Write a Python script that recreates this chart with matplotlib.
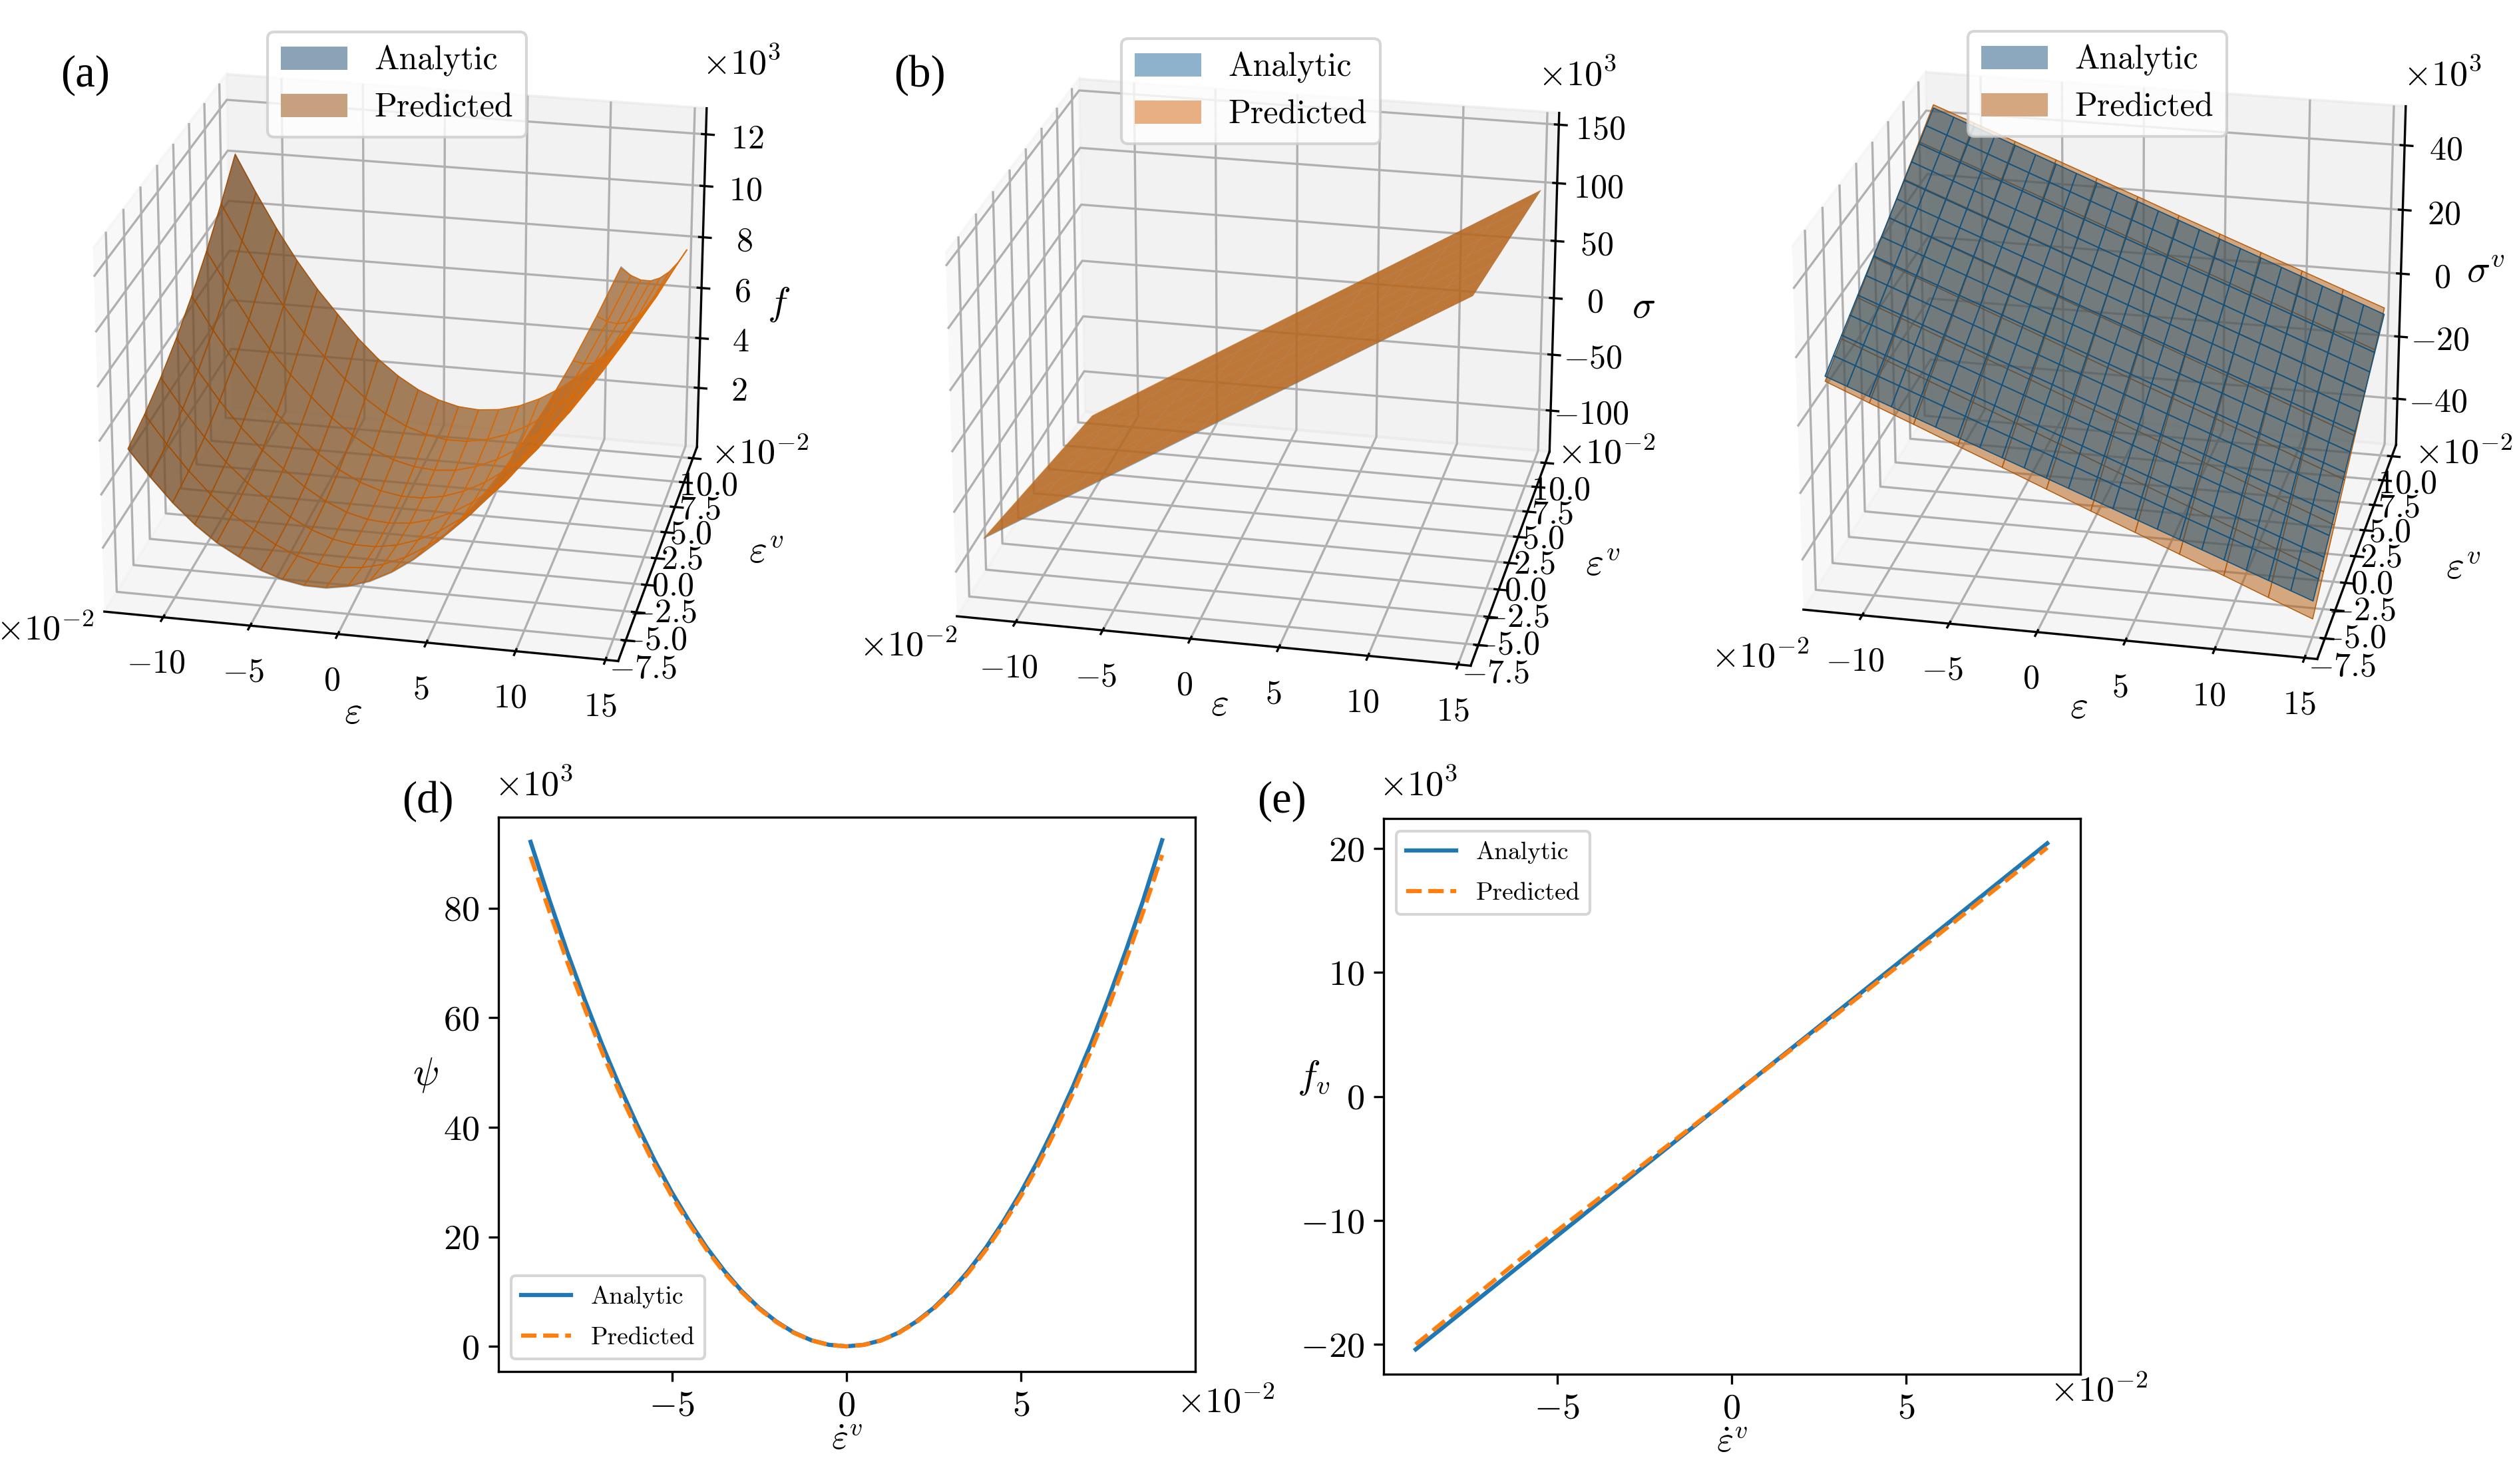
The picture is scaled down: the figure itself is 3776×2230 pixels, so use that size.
import numpy as np
import matplotlib
matplotlib.use("Agg")
import matplotlib.pyplot as plt
from matplotlib.patches import Patch

plt.rcParams['font.family'] = ['cmr10', 'DejaVu Sans']
plt.rcParams['mathtext.fontset'] = 'cm'
plt.rcParams['axes.unicode_minus'] = False
plt.rcParams['axes.formatter.use_mathtext'] = True

W, H = 3776, 2230
DPI = 300

EPS_FINE = [-12.5, -11.25, -10, -8.75, -7.5, -6.25, -5, -3.75, -2.5, -1.25, 0, 1.25, 2.5, 3.75, 5, 6.25, 7.5, 8.75, 10, 11.25, 12.5, 13.75, 15]
EPS = [-12.5, -10, -7.5, -5, -2.5, 0, 2.5, 5, 7.5, 10, 12.5, 15]
EPSV = [-7.5, -5, -2.5, 0, 2.5, 5, 7.5, 10]
EPSV_FINE = [-7.5, -6.25, -5, -3.75, -2.5, -1.25, 0, 1.25, 2.5, 3.75, 5, 6.25, 7.5, 8.75, 10]

F_ANALYTIC = [
    [5.04, 4.06, 3.17, 2.42, 1.81, 1.35, 0.92, 0.64, 0.49, 0.48, 0.62, 0.89, 1.31, 1.87, 2.57, 3.41, 4.39, 5.51, 6.77, 8.17, 9.71, 11.40, 13.22],
    [5.38, 4.33, 3.38, 2.56, 1.88, 1.35, 0.85, 0.50, 0.28, 0.21, 0.28, 0.48, 0.83, 1.32, 1.95, 2.72, 3.63, 4.68, 5.88, 7.21, 8.68, 10.30, 12.05],
    [5.86, 4.74, 3.72, 2.83, 2.09, 1.49, 0.92, 0.50, 0.21, 0.07, 0.07, 0.21, 0.49, 0.91, 1.47, 2.17, 3.01, 3.99, 5.12, 6.38, 7.79, 9.34, 11.02],
    [6.48, 5.29, 4.20, 3.24, 2.43, 1.76, 1.13, 0.64, 0.28, 0.07, 0.00, 0.07, 0.28, 0.64, 1.13, 1.76, 2.53, 3.44, 4.50, 5.69, 7.03, 8.51, 10.13],
    [7.24, 5.98, 4.82, 3.79, 2.91, 2.17, 1.47, 0.91, 0.49, 0.21, 0.07, 0.07, 0.21, 0.50, 0.92, 1.49, 2.19, 3.03, 4.02, 5.14, 6.41, 7.82, 9.37],
    [8.13, 6.81, 5.58, 4.48, 3.53, 2.72, 1.95, 1.32, 0.83, 0.48, 0.28, 0.21, 0.28, 0.50, 0.85, 1.35, 1.98, 2.76, 3.68, 4.73, 5.93, 7.27, 8.75],
    [9.16, 7.77, 6.47, 5.31, 4.29, 3.41, 2.57, 1.87, 1.31, 0.89, 0.62, 0.48, 0.49, 0.64, 0.92, 1.35, 1.91, 2.62, 3.47, 4.46, 5.59, 6.86, 8.27],
    [10.33, 8.87, 7.50, 6.27, 5.18, 4.24, 3.33, 2.56, 1.93, 1.44, 1.10, 0.89, 0.83, 0.91, 1.13, 1.49, 1.98, 2.62, 3.40, 4.32, 5.38, 6.59, 7.93],
]
F_PREDICTED = [
    [5.09, 4.11, 3.22, 2.47, 1.86, 1.40, 0.97, 0.69, 0.54, 0.53, 0.67, 0.94, 1.36, 1.92, 2.62, 3.46, 4.44, 5.55, 6.80, 8.19, 9.72, 11.38, 13.15],
    [5.43, 4.38, 3.43, 2.61, 1.93, 1.40, 0.90, 0.55, 0.33, 0.26, 0.33, 0.53, 0.88, 1.37, 2.00, 2.77, 3.68, 4.72, 5.92, 7.23, 8.70, 10.30, 12.02],
    [5.90, 4.78, 3.76, 2.87, 2.13, 1.53, 0.96, 0.54, 0.25, 0.11, 0.11, 0.25, 0.53, 0.95, 1.51, 2.21, 3.05, 4.02, 5.15, 6.40, 7.81, 9.34, 11.00],
    [6.50, 5.31, 4.22, 3.26, 2.45, 1.78, 1.15, 0.66, 0.30, 0.09, 0.03, 0.09, 0.31, 0.66, 1.16, 1.78, 2.55, 3.46, 4.52, 5.70, 7.04, 8.50, 10.10],
    [7.24, 5.98, 4.83, 3.80, 2.92, 2.18, 1.48, 0.92, 0.50, 0.23, 0.09, 0.09, 0.23, 0.52, 0.94, 1.51, 2.20, 3.04, 4.03, 5.14, 6.41, 7.81, 9.35],
    [8.12, 6.80, 5.57, 4.48, 3.53, 2.72, 1.96, 1.33, 0.84, 0.49, 0.29, 0.22, 0.29, 0.51, 0.86, 1.36, 1.99, 2.76, 3.68, 4.72, 5.92, 7.25, 8.72],
    [9.13, 7.75, 6.45, 5.30, 4.28, 3.40, 2.57, 1.87, 1.31, 0.89, 0.62, 0.48, 0.49, 0.64, 0.92, 1.35, 1.91, 2.61, 3.46, 4.44, 5.57, 6.83, 8.23],
    [10.27, 8.82, 7.46, 6.24, 5.16, 4.22, 3.32, 2.55, 1.92, 1.43, 1.09, 0.88, 0.82, 0.90, 1.12, 1.48, 1.97, 2.61, 3.38, 4.30, 5.35, 6.55, 7.88],
]
S_ANALYTIC = [
    [-87.1, -66.0, -44.9, -23.8, -2.7, 18.5, 39.6, 60.7, 81.8, 102.9, 124.0, 145.1],
    [-93.2, -72.1, -51.0, -29.9, -8.8, 12.3, 33.4, 54.5, 75.6, 96.7, 117.8, 138.9],
    [-99.4, -78.3, -57.2, -36.1, -15.0, 6.2, 27.3, 48.4, 69.5, 90.6, 111.7, 132.8],
    [-105.5, -84.4, -63.3, -42.2, -21.1, 0.0, 21.1, 42.2, 63.3, 84.4, 105.5, 126.6],
    [-111.7, -90.6, -69.5, -48.4, -27.3, -6.2, 15.0, 36.1, 57.2, 78.3, 99.4, 120.5],
    [-117.8, -96.7, -75.6, -54.5, -33.4, -12.3, 8.8, 29.9, 51.0, 72.1, 93.2, 114.3],
    [-124.0, -102.9, -81.8, -60.7, -39.6, -18.5, 2.7, 23.8, 44.9, 66.0, 87.1, 108.2],
    [-130.1, -109.0, -87.9, -66.8, -45.7, -24.6, -3.5, 17.6, 38.7, 59.8, 80.9, 102.0],
]
S_PREDICTED = [
    [-86.6, -65.4, -44.3, -23.1, -2.0, 19.1, 40.2, 61.2, 82.2, 103.2, 124.1, 145.0],
    [-92.6, -71.5, -50.4, -29.3, -8.2, 12.9, 33.9, 55.0, 76.0, 97.0, 118.0, 138.9],
    [-98.8, -77.7, -56.6, -35.5, -14.4, 6.7, 27.8, 48.8, 69.8, 90.9, 111.9, 132.8],
    [-104.9, -83.8, -62.7, -41.6, -20.5, 0.5, 21.5, 42.6, 63.6, 84.6, 105.6, 126.6],
    [-111.1, -90.0, -68.9, -47.8, -26.7, -5.7, 15.4, 36.4, 57.4, 78.5, 99.5, 120.5],
    [-117.2, -96.1, -75.0, -53.9, -32.9, -11.8, 9.2, 30.2, 51.2, 72.3, 93.3, 114.3],
    [-123.4, -102.3, -81.2, -60.1, -39.1, -18.0, 3.1, 24.1, 45.1, 66.1, 87.2, 108.2],
    [-129.5, -108.4, -87.3, -66.3, -45.2, -24.1, -3.1, 17.9, 38.9, 59.9, 81.0, 102.0],
]
SV_ANALYTIC = [
    [9.8, 7.35, 4.9, 2.45, 0, -2.45, -4.9, -7.35, -9.8, -12.25, -14.7, -17.15, -19.6, -22.05, -24.5, -26.95, -29.4, -31.85, -34.3, -36.75, -39.2, -41.65, -44.1],
    [12.25, 9.8, 7.35, 4.9, 2.45, 0, -2.45, -4.9, -7.35, -9.8, -12.25, -14.7, -17.15, -19.6, -22.05, -24.5, -26.95, -29.4, -31.85, -34.3, -36.75, -39.2, -41.65],
    [14.7, 12.25, 9.8, 7.35, 4.9, 2.45, 0, -2.45, -4.9, -7.35, -9.8, -12.25, -14.7, -17.15, -19.6, -22.05, -24.5, -26.95, -29.4, -31.85, -34.3, -36.75, -39.2],
    [17.15, 14.7, 12.25, 9.8, 7.35, 4.9, 2.45, 0, -2.45, -4.9, -7.35, -9.8, -12.25, -14.7, -17.15, -19.6, -22.05, -24.5, -26.95, -29.4, -31.85, -34.3, -36.75],
    [19.6, 17.15, 14.7, 12.25, 9.8, 7.35, 4.9, 2.45, 0, -2.45, -4.9, -7.35, -9.8, -12.25, -14.7, -17.15, -19.6, -22.05, -24.5, -26.95, -29.4, -31.85, -34.3],
    [22.05, 19.6, 17.15, 14.7, 12.25, 9.8, 7.35, 4.9, 2.45, 0, -2.45, -4.9, -7.35, -9.8, -12.25, -14.7, -17.15, -19.6, -22.05, -24.5, -26.95, -29.4, -31.85],
    [24.5, 22.05, 19.6, 17.15, 14.7, 12.25, 9.8, 7.35, 4.9, 2.45, 0, -2.45, -4.9, -7.35, -9.8, -12.25, -14.7, -17.15, -19.6, -22.05, -24.5, -26.95, -29.4],
    [26.95, 24.5, 22.05, 19.6, 17.15, 14.7, 12.25, 9.8, 7.35, 4.9, 2.45, 0, -2.45, -4.9, -7.35, -9.8, -12.25, -14.7, -17.15, -19.6, -22.05, -24.5, -26.95],
    [29.4, 26.95, 24.5, 22.05, 19.6, 17.15, 14.7, 12.25, 9.8, 7.35, 4.9, 2.45, 0, -2.45, -4.9, -7.35, -9.8, -12.25, -14.7, -17.15, -19.6, -22.05, -24.5],
    [31.85, 29.4, 26.95, 24.5, 22.05, 19.6, 17.15, 14.7, 12.25, 9.8, 7.35, 4.9, 2.45, 0, -2.45, -4.9, -7.35, -9.8, -12.25, -14.7, -17.15, -19.6, -22.05],
    [34.3, 31.85, 29.4, 26.95, 24.5, 22.05, 19.6, 17.15, 14.7, 12.25, 9.8, 7.35, 4.9, 2.45, 0, -2.45, -4.9, -7.35, -9.8, -12.25, -14.7, -17.15, -19.6],
    [36.75, 34.3, 31.85, 29.4, 26.95, 24.5, 22.05, 19.6, 17.15, 14.7, 12.25, 9.8, 7.35, 4.9, 2.45, 0, -2.45, -4.9, -7.35, -9.8, -12.25, -14.7, -17.15],
    [39.2, 36.75, 34.3, 31.85, 29.4, 26.95, 24.5, 22.05, 19.6, 17.15, 14.7, 12.25, 9.8, 7.35, 4.9, 2.45, 0, -2.45, -4.9, -7.35, -9.8, -12.25, -14.7],
    [41.65, 39.2, 36.75, 34.3, 31.85, 29.4, 26.95, 24.5, 22.05, 19.6, 17.15, 14.7, 12.25, 9.8, 7.35, 4.9, 2.45, 0, -2.45, -4.9, -7.35, -9.8, -12.25],
    [44.1, 41.65, 39.2, 36.75, 34.3, 31.85, 29.4, 26.95, 24.5, 22.05, 19.6, 17.15, 14.7, 12.25, 9.8, 7.35, 4.9, 2.45, 0, -2.45, -4.9, -7.35, -9.8],
]
SV_PREDICTED = [
    [8.3, 3.0, -2.2, -7.5, -12.7, -18.0, -23.3, -28.5, -33.8, -39.0, -44.3, -49.5],
    [13.6, 8.4, 3.2, -2.0, -7.2, -12.4, -17.6, -22.8, -28.0, -33.2, -38.4, -43.6],
    [18.8, 13.7, 8.6, 3.5, -1.6, -6.8, -11.9, -17.0, -22.1, -27.3, -32.4, -37.6],
    [24.1, 19.0, 14.0, 8.9, 3.9, -1.2, -6.3, -11.3, -16.4, -21.5, -26.6, -31.7],
    [29.3, 24.3, 19.3, 14.3, 9.3, 4.3, -0.7, -5.7, -10.7, -15.7, -20.8, -25.8],
    [34.6, 29.7, 24.8, 19.8, 14.9, 9.9, 5.0, 0.0, -4.9, -9.9, -14.8, -19.8],
    [39.8, 35.0, 30.1, 25.3, 20.4, 15.5, 10.6, 5.8, 0.9, -4.0, -8.9, -13.8],
    [45.1, 40.3, 35.5, 30.7, 25.9, 21.1, 16.2, 11.4, 6.6, 1.8, -3.0, -7.8],
]

X_D = [-9.05, -8.5, -8, -7.5, -7, -6.5, -6, -5.5, -5, -4.5, -4, -3.5, -3, -2.5, -2, -1.5, -1, -0.5, 0,
       0.5, 1, 1.5, 2, 2.5, 3, 3.5, 4, 4.5, 5, 5.5, 6, 6.5, 7, 7.5, 8, 8.5, 9.05]
PSI_ANALYTIC = [92.1, 81.3, 72.0, 63.3, 55.1, 47.5, 40.5, 34.0, 28.1, 22.8, 18.0, 13.8, 10.1, 7.0, 4.5, 2.5, 1.1, 0.28, 0,
                0.28, 1.1, 2.5, 4.5, 7.0, 10.1, 13.8, 18.0, 22.8, 28.1, 34.0, 40.5, 47.5, 55.1, 63.3, 72.0, 81.3, 92.4]
PSI_PREDICTED = [89.4, 79.2, 70.2, 61.7, 53.7, 46.3, 39.5, 33.1, 27.4, 22.3, 17.6, 13.45, 9.9, 6.85, 4.4, 2.45, 1.08, 0.27, 0,
                 0.27, 1.08, 2.45, 4.4, 6.85, 9.9, 13.45, 17.6, 22.3, 27.4, 33.1, 39.5, 46.3, 53.7, 61.7, 70.2, 79.2, 89.7]
X_E = [-9.05, -6, -3, 0, 3, 6, 9.05]
FV_ANALYTIC = [-20.4, -13.5, -6.75, 0, 6.75, 13.5, 20.4]
FV_PREDICTED = [-20.0, -13.0, -6.5, 0, 6.6, 13.2, 20.05]

EPS_TICKS = [-10, -5, 0, 5, 10, 15]
EPSV_TICKS = [-7.5, -5.0, -2.5, 0.0, 2.5, 5.0, 7.5, 10.0]
Z_TICKS_A = [2, 4, 6, 8, 10, 12]
Z_TICKS_B = [-100, -50, 0, 50, 100, 150]
Z_TICKS_C = [-40, -20, 0, 20, 40]
LINE_TICKS = [-5, 0, 5]
Y_TICKS_D = [0, 20, 40, 60, 80]
Y_TICKS_E = [-20, -10, 0, 10, 20]

BLUE, ORANGE = '#1f77b4', '#ff7f0e'

fig = plt.figure(figsize=(W / DPI, H / DPI), dpi=DPI)


def lab(v, fmt='{:g}'):
    return ['$' + fmt.format(t) + '$' for t in v]


def T(x, y, s, size=13, **kw):
    kw.setdefault('ha', 'center')
    kw.setdefault('va', 'center')
    fig.text(x / W, 1 - y / H, s, fontsize=size, **kw)


def panel3d(x0, y0, size, layers, zticks, zlim, leg_xy, leg_cols):
    ax = fig.add_axes([x0 / W, 1 - (y0 + size) / H, size / W, size / H], projection='3d')
    ax.patch.set_alpha(0)
    ax.computed_zorder = False
    for i, (xs, ys, tb, c, al, lw) in enumerate(layers):
        X, Y = np.meshgrid(xs, ys)
        extra = {'edgecolors': c, 'linewidth': lw} if lw else {'linewidth': 0}
        ax.plot_surface(X, Y, np.array(tb), color=c, alpha=al, zorder=3 + i,
                        rcount=len(ys), ccount=len(xs), **extra)
    ax.view_init(elev=23, azim=-78)
    ax.set_xlim(-13.4, 15.7, view_margin=0)
    ax.set_ylim(-9.3, 11.2, view_margin=0)
    ax.set_zlim(*zlim, view_margin=0)
    ax.set_xticks(EPS_TICKS, labels=lab(EPS_TICKS))
    ax.set_yticks(EPSV_TICKS, labels=lab(EPSV_TICKS, '{:.1f}'))
    ax.set_zticks(zticks, labels=lab(zticks))
    ax.tick_params(axis='both', labelsize=12, pad=0)
    ax.tick_params(axis='y', pad=-3)
    ax.tick_params(axis='z', pad=3)
    handles = [Patch(facecolor=leg_cols[0], label='Analytic'), Patch(facecolor=leg_cols[1], label='Predicted')]
    fig.legend(handles=handles, loc='upper left', bbox_to_anchor=(leg_xy[0] / W, 1 - leg_xy[1] / H),
               bbox_transform=fig.transFigure, fontsize=12, borderaxespad=0, borderpad=0.4)
    return ax


S3 = 1185
panel3d(12, -45, S3,
        [(EPS_FINE, EPSV, F_ANALYTIC, BLUE, 0.5, 0), (EPS_FINE, EPSV, F_PREDICTED, ORANGE, 0.55, 0.4)],
        Z_TICKS_A, (-0.4, 13.0), (402, 48), ('#8ba3b6', '#c7a080'))
panel3d(1293, -38, S3,
        [(EPS, EPSV, S_ANALYTIC, BLUE, 0.5, 0), (EPS, EPSV, S_PREDICTED, ORANGE, 0.75, 0)],
        Z_TICKS_B, (-137, 160), (1685, 58), ('#8eb1cc', '#e8b082'))
panel3d(2565, -48, S3,
        [(EPS, EPSV, SV_PREDICTED, ORANGE, 0.5, 0.35), (EPS_FINE, EPSV_FINE, SV_ANALYTIC, BLUE, 0.5, 0.4)],
        Z_TICKS_C, (-55, 52), (2957, 47), ('#8ba8be', '#d4a780'))

for (x, y, s, fs) in [(1114, 96, r'$\times 10^3$', 13), (1142, 681, r'$\times 10^{-2}$', 13), (68, 946, r'$\times 10^{-2}$', 13),
                      (530, 1072, r'$\varepsilon$', 14), (1151, 831, r'$\varepsilon^v$', 14), (1170, 457, r'$f$', 14),
                      (2370, 113, r'$\times 10^3$', 13), (2414, 681, r'$\times 10^{-2}$', 13), (1365, 970, r'$\times 10^{-2}$', 13),
                      (1832, 1060, r'$\varepsilon$', 14), (2408, 850, r'$\varepsilon^v$', 14), (2470, 462, r'$\sigma$', 14),
                      (3670, 113, r'$\times 10^3$', 13), (3702, 681, r'$\times 10^{-2}$', 13), (2645, 987, r'$\times 10^{-2}$', 13),
                      (3123, 1064, r'$\varepsilon$', 14), (3701, 855, r'$\varepsilon^v$', 14), (3735, 409, r'$\sigma^v$', 14),
                      (802, 1180, r'$\times 10^3$', 13), (1842, 2107, r'$\times 10^{-2}$', 13),
                      (2131, 1180, r'$\times 10^3$', 13), (3154, 2090, r'$\times 10^{-2}$', 13)]:
    T(x, y, s, fs)

for (x, y, s) in [(128, 113, '(a)'), (1382, 113, '(b)'), (643, 1204, '(d)'), (1926, 1204, '(e)')]:
    T(x, y, s, 16, family='Liberation Serif')


def panel2d(l, r, t, b, x, ya, yp, yticks, ylim, legloc, xlabel, ylabel, ylab_x):
    ax = fig.add_axes([l / W, 1 - b / H, (r - l) / W, (b - t) / H])
    ax.plot(x, ya, color=BLUE, lw=1.5, label='Analytic')
    ax.plot(x, yp, color=ORANGE, lw=1.5, ls='--', label='Predicted')
    ax.set_xlim(-9.97, 10)
    ax.set_ylim(*ylim)
    ax.set_xticks(LINE_TICKS, labels=lab(LINE_TICKS))
    ax.set_yticks(yticks, labels=lab(yticks))
    ax.tick_params(labelsize=13)
    ax.set_xlabel(xlabel, fontsize=13, labelpad=1)
    ax.set_ylabel(ylabel, fontsize=14, rotation=0, labelpad=0)
    ax.yaxis.set_label_coords(ylab_x, 0.5)
    ax.legend(loc=legloc, fontsize=9, labelspacing=0.75)
    return ax


panel2d(749, 1796, 1228, 2061, X_D, PSI_ANALYTIC, PSI_PREDICTED, Y_TICKS_D, (-4.6, 96.6), 'lower left',
        r'$\dot{\varepsilon}^v$', r'$\psi$', -0.105)
panel2d(2079, 3126, 1230, 2065, X_E, FV_ANALYTIC, FV_PREDICTED, Y_TICKS_E, (-22.4, 22.4), 'upper left',
        r'$\dot{\varepsilon}^v$', r'$f_v$', -0.10)

fig.savefig('out.png', dpi=DPI)
